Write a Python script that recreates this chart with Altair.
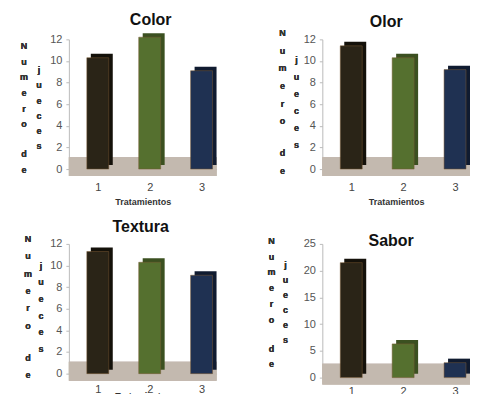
import altair as alt
import pandas as pd

cats = ["1", "2", "3"]
color_vals = [10.3, 12.2, 9.1]
olor_vals = [11.4, 10.3, 9.2]
textura_vals = [11.3, 10.3, 9.1]
sabor_vals = [21.5, 6.3, 2.8]
front_colors = ["#2a2417", "#55702f", "#1f3152"]
back_colors = ["#14110a", "#3b5020", "#101b30"]

col1a_text = ["N", "u", "m", "e", "r", "o"]
col1b_text = ["d", "e"]
col2_text = ["j", "u", "e", "c", "e", "s"]

W = 148


def letters(base, lines, x, y, lh):
    return base.mark_text(align="center", baseline="top", lineHeight=lh,
                          fontSize=9, fontWeight="bold", color="#333",
                          font="Liberation Sans").encode(
        x=alt.value(x), y=alt.value(y), text=alt.value(lines))


def panel(title, vals, ymax, ystep, height, tdx, toff, c1x, c1y, lh1, de_off,
          c2x, c2y, lh2, ftop, fbot, lpad, tpad):
    df = pd.DataFrame({"t": cats, "v": vals, "front": front_colors, "back": back_colors})
    base = alt.Chart(df)
    xenc = alt.X("t:N", title="Tratamientos",
                 scale=alt.Scale(paddingInner=0.577, paddingOuter=0.2115, align=0.818),
                 axis=alt.Axis(labelAngle=0, labelFontSize=11, labelColor="#444",
                               labelFont="Liberation Sans", labelPadding=lpad,
                               tickBand="extent", tickSize=3, tickColor="#bbb",
                               domainColor="#bbb", titleFontSize=9, titleFontWeight="bold",
                               titleColor="#333", titlePadding=tpad,
                               titleFont="Liberation Sans"))
    yscale = alt.Scale(domain=[0, ymax], nice=False)
    yaxis = alt.Axis(values=list(range(0, ymax + 1, ystep)), labelFontSize=11,
                     labelColor="#555", labelFont="Liberation Sans", grid=False,
                     labelOverlap=False, labelBound=False,
                     tickSize=3, tickColor="#bbb", domainColor="#bbb", labelPadding=4)
    yenc = alt.Y("v:Q", title=None, scale=yscale, axis=yaxis)
    floor = base.mark_rect(color="#c3b9af").encode(
        x=alt.value(0), x2=alt.value("width"),
        y=alt.YDatum(ftop, type="quantitative", scale=yscale, axis=yaxis, title=None),
        y2=alt.Y2Datum(fbot))
    back = base.mark_bar(xOffset=4, yOffset=-4).encode(
        x=xenc, y=yenc, color=alt.Color("back:N", scale=None))
    front = base.mark_bar(stroke="#7a5a33", strokeWidth=0.5).encode(
        x=xenc, y=yenc, color=alt.Color("front:N", scale=None))
    t1 = letters(base, col1a_text, c1x, c1y, lh1)
    t1b = letters(base, col1b_text, c1x, c1y + de_off, lh1)
    t2 = letters(base, col2_text, c2x, c2y, lh2)
    return alt.layer(floor, back, front, t1, t1b, t2).properties(
        width=W, height=height,
        title=alt.TitleParams(title, fontSize=16, fontWeight="bold", font="Liberation Sans",
                              color="#111", dx=tdx, offset=toff, anchor="middle",
                              frame="group"))


p1 = panel("Color", color_vals, 12, 2, 130, 8, 5,
           -45, 3, 15.6, 108, -30, 27, 15.2, 1.1, -0.65, 9, 6)
p2 = panel("Olor", olor_vals, 12, 2, 130, -10, -1,
           -40, -10, 17.6, 120, -26, 17, 17.0, 1.1, -0.65, 9, 6)
p3 = panel("Textura", textura_vals, 12, 2, 130, -2, 0,
           -41, -9, 17.4, 119, -28, 18, 16.6, 1.1, -0.65, 7, -3)
p4 = panel("Sabor", sabor_vals, 25, 5, 134, -5, -12,
           -51, -7, 15.8, 108, -37, 17, 15.0, 2.6, -1.3, 5, -3)

chart = alt.concat(
    p1, p2, p3, p4, columns=2,
    spacing={"row": 75, "column": 106},
    bounds="flush",
).properties(
    padding={"left": 11, "top": 3, "right": 0, "bottom": -9},
).configure_view(stroke=None)

chart.save("out.html", embed_options={"renderer": "svg", "actions": False})
